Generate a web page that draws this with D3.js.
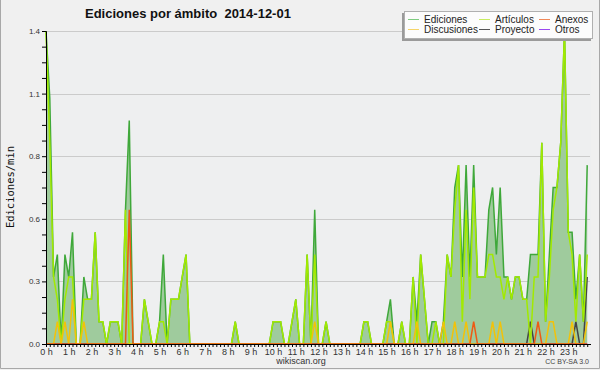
<!DOCTYPE html>
<html>
<head>
<meta charset="utf-8">
<script src="https://cdn.jsdelivr.net/npm/d3@7"></script>
<style>
body { margin:0; background:#f0f0f0; }
svg { display:block; }
</style>
</head>
<body>
<svg id="mainSVG" width="600" height="370"></svg>
<script>
var $svg = d3.select("#mainSVG");

// data: edits per minute, 10 minute bins, 2014-12-01 (12 values = 2 hours per row)
var stepMin = 10;
var ediciones = [
    1.4,1.1,0.3,0.4,0.0,0.4,0.3,0.5,0.0,0.0,0.3,0.2,
    0.2,0.5,0.1,0.1,0.0,0.1,0.1,0.1,0.0,0.6,1.0,0.0,
    0.0,0.0,0.2,0.1,0.0,0.0,0.1,0.4,0.0,0.2,0.2,0.2,
    0.3,0.4,0.0,0.0,0.0,0.0,0.0,0.0,0.0,0.0,0.0,0.0,
    0.0,0.0,0.1,0.0,0.0,0.0,0.0,0.0,0.0,0.0,0.0,0.0,
    0.1,0.1,0.1,0.0,0.0,0.1,0.2,0.0,0.0,0.4,0.0,0.6,
    0.0,0.0,0.1,0.0,0.0,0.0,0.0,0.0,0.0,0.0,0.0,0.0,
    0.1,0.1,0.0,0.0,0.0,0.0,0.1,0.2,0.0,0.0,0.1,0.0,
    0.0,0.3,0.1,0.4,0.2,0.0,0.1,0.1,0.0,0.1,0.4,0.3,
    0.7,0.8,0.3,0.8,0.3,0.8,0.3,0.3,0.3,0.6,0.7,0.4,
    0.7,0.3,0.3,0.2,0.3,0.3,0.2,0.2,0.4,0.4,0.4,0.9,
    0.1,0.4,0.7,0.7,0.9,1.4,0.5,0.5,0.2,0.4,0.1,0.8];
var articulos = [
    1.4,0.9,0.3,0.2,0.0,0.2,0.3,0.3,0.0,0.0,0.2,0.2,
    0.2,0.5,0.1,0.1,0.0,0.1,0.1,0.1,0.0,0.6,0.0,0.0,
    0.0,0.0,0.2,0.1,0.0,0.0,0.1,0.1,0.0,0.2,0.2,0.2,
    0.3,0.4,0.0,0.0,0.0,0.0,0.0,0.0,0.0,0.0,0.0,0.0,
    0.0,0.0,0.1,0.0,0.0,0.0,0.0,0.0,0.0,0.0,0.0,0.0,
    0.1,0.1,0.1,0.0,0.0,0.1,0.2,0.0,0.0,0.4,0.0,0.4,
    0.0,0.0,0.1,0.0,0.0,0.0,0.0,0.0,0.0,0.0,0.0,0.0,
    0.1,0.1,0.0,0.0,0.0,0.0,0.1,0.1,0.0,0.0,0.1,0.0,
    0.0,0.3,0.0,0.4,0.2,0.0,0.0,0.1,0.0,0.0,0.4,0.3,
    0.6,0.8,0.1,0.6,0.2,0.7,0.3,0.3,0.3,0.4,0.4,0.3,
    0.3,0.2,0.3,0.2,0.3,0.3,0.2,0.2,0.0,0.3,0.3,0.9,
    0.1,0.3,0.6,0.7,0.9,1.4,0.5,0.4,0.1,0.4,0.1,0.4];
var discusiones = [
    0,0,0,0.1,0,0.1,0,0.2,0,0,0.1,0,
    0,0,0,0,0,0,0,0,0,0,0,0,
    0,0,0,0,0,0,0,0,0,0,0,0,
    0,0,0,0,0,0,0,0,0,0,0,0,
    0,0,0,0,0,0,0,0,0,0,0,0,
    0,0,0,0,0,0,0,0,0,0,0,0.1,
    0,0,0,0,0,0,0,0,0,0,0,0,
    0,0,0,0,0,0,0,0.1,0,0,0,0,
    0,0,0.1,0,0,0,0,0,0,0.1,0,0,
    0.1,0,0,0.1,0,0,0,0,0,0,0.1,0,
    0.1,0,0,0,0,0,0,0,0,0,0,0,
    0,0.1,0.1,0,0,0,0,0.1,0,0,0,0.1];
var anexos = [
    0,0,0,0,0,0,0,0,0,0,0,0,
    0,0,0,0,0,0,0,0,0,0,0.6,0,
    0,0,0,0,0,0,0,0,0,0,0,0,
    0,0,0,0,0,0,0,0,0,0,0,0,
    0,0,0,0,0,0,0,0,0,0,0,0,
    0,0,0,0,0,0,0,0,0,0,0,0,
    0,0,0,0,0,0,0,0,0,0,0,0,
    0,0,0,0,0,0,0,0,0,0,0,0,
    0,0,0,0,0,0,0,0,0,0,0,0,
    0,0,0,0,0,0.1,0,0,0,0,0,0,
    0,0,0,0,0,0,0,0,0,0,0.1,0,
    0,0,0,0,0,0,0,0,0,0,0,0];
var proyecto = [
    0,0,0,0,0,0,0,0,0,0,0,0,
    0,0,0,0,0,0,0,0,0,0,0,0,
    0,0,0,0,0,0,0,0,0,0,0,0,
    0,0,0,0,0,0,0,0,0,0,0,0,
    0,0,0,0,0,0,0,0,0,0,0,0,
    0,0,0,0,0,0,0,0,0,0,0,0,
    0,0,0,0,0,0,0,0,0,0,0,0,
    0,0,0,0,0,0,0,0,0,0,0,0,
    0,0,0,0,0,0,0,0,0,0,0,0,
    0,0,0,0,0,0,0,0,0,0,0,0,
    0,0,0,0,0,0,0,0,0.1,0,0,0,
    0,0,0,0,0,0,0,0,0.1,0,0,0.3];
var otros = ediciones.map(()=>0);

var seriesNames = ['Ediciones','Artículos','Anexos','Discusiones','Proyecto','Otros'];
var seriesData = [ediciones, articulos, anexos, discusiones, proyecto, otros];
var lineColors = ['#3fa83a','#a2ea00','#ee5a14','#f2c20a','#444444','#9a3cf0'];
var legendColors = ['#7fcc80','#c8ec60','#f08858','#f5d468','#555555','#9a48f0'];
// legend order: column by column
var legendOrder = [0,3,1,4,2,5];

var yMax = 1.4, yMajor = 5, yMinorPer = 4;

// layout
var plotL = 46, plotR = 591, plotT = 31, plotB = 344;

var x = d3.scaleLinear().domain([0, 24*60]).range([plotL, plotR]);
var y = d3.scaleLinear().domain([0, yMax]).range([plotB, plotT]);
var tMin = i => i*stepMin;

// frame
$svg.append('rect').attr('x',0).attr('y',0).attr('width',600).attr('height',370).attr('fill','#f0f0f0');
$svg.append('path').attr('d','M0.5 0 V368.5 H599.5 V0').attr('fill','none').attr('stroke','#a8a8a8');
$svg.append('rect').attr('x',plotL).attr('y',plotT).attr('width',plotR-plotL).attr('height',plotB-plotT).attr('fill','#eeeff0');

// gridlines
var majorVals = d3.range(1, yMajor+1).map(i => i*yMax/yMajor);
$svg.append('g').selectAll('line').data(majorVals).enter().append('line')
    .attr('x1',plotL).attr('x2',plotR-1)
    .attr('y1',d=>Math.round(y(d))+0.5).attr('y2',d=>Math.round(y(d))+0.5)
    .attr('stroke','#cbcbcb').attr('stroke-width',1.2);

// area + lines
var area = d3.area().x((d,i)=>x(tMin(i))).y0(y(0)).y1(d=>y(d));
$svg.append('path').attr('d',area(ediciones)).attr('fill','#9fcb9d');

var line = d3.line().x((d,i)=>x(tMin(i))).y(d=>y(d));
var drawOrder = [5,4,0,1,3,2];
$svg.append('g').selectAll('path').data(drawOrder).enter().append('path')
    .attr('d',s=>line(seriesData[s]))
    .attr('fill','none')
    .attr('stroke',s=>lineColors[s])
    .attr('stroke-width',1.5)
    .attr('stroke-linejoin','miter');

// y axis
var yTicks = d3.range(0, yMajor*yMinorPer+1).map(i => i*yMax/(yMajor*yMinorPer));
var yAxis = d3.axisLeft(y).tickValues(yTicks).tickSize(4).tickPadding(2)
    .tickFormat((d,i)=> i%yMinorPer==0 ? d3.format('.1f')(d) : '');
var $ya = $svg.append('g').attr('transform','translate(' + plotL + ',0)').call(yAxis);
$ya.select('.domain').attr('stroke','#000');
$ya.selectAll('.tick line').attr('stroke','#000');
$ya.selectAll('text').attr('font-family','Liberation Sans, Arial, sans-serif').attr('font-size',8).attr('fill','#333');

// x axis
var xTicks = d3.range(0, 24*60, stepMin);
var xAxis = d3.axisBottom(x).tickValues(xTicks).tickSize(3).tickPadding(2)
    .tickFormat(d => d%60==0 ? (d/60) + ' h' : '');
var $xa = $svg.append('g').attr('transform','translate(0,' + plotB + ')').call(xAxis);
$xa.select('.domain').attr('stroke','#000').attr('d','M' + plotL + ',0.5H' + plotR);
$xa.selectAll('.tick line').attr('stroke','#000');
$xa.selectAll('text').attr('font-family','Liberation Sans, Arial, sans-serif').attr('font-size',9).attr('fill','#333');

// y label
$svg.append('text').attr('transform','translate(14,187) rotate(-90)')
    .attr('text-anchor','middle')
    .attr('font-family','DejaVu Sans Mono, monospace').attr('font-size',10.5).attr('fill','#111')
    .text('Ediciones/min');

// title
$svg.append('text').attr('x',85).attr('y',18)
    .attr('font-family','Liberation Sans, Arial, sans-serif').attr('font-weight','bold').attr('font-size',13)
    .attr('fill','#111').attr('xml:space','preserve')
    .text('Ediciones por ámbito  2014-12-01');

// footer
$svg.append('text').attr('x',301).attr('y',364).attr('text-anchor','middle')
    .attr('font-family','Liberation Sans, Arial, sans-serif').attr('font-size',9).attr('fill','#333')
    .text('wikiscan.org');
$svg.append('text').attr('x',589).attr('y',364).attr('text-anchor','end')
    .attr('font-family','Liberation Sans, Arial, sans-serif').attr('font-size',7).attr('fill','#444')
    .text('CC BY-SA 3.0');

// legend
var lgX = 404, lgY = 11, lgW = 189, lgH = 28;
$svg.append('rect').attr('x',lgX-2).attr('y',lgY+2).attr('width',lgW).attr('height',lgH).attr('fill','#9a9a9a');
$svg.append('rect').attr('x',lgX+0.5).attr('y',lgY+0.5).attr('width',lgW-1).attr('height',lgH-1)
    .attr('fill','#fcfcfc').attr('stroke','#b0b0b0');
var colX = [408, 479, 539];
var $lg = $svg.append('g').selectAll('g').data(legendOrder).enter().append('g')
    .attr('transform',(s,i)=>'translate(' + colX[Math.floor(i/2)] + ',' + (lgY + 8 + (i%2)*10) + ')');
$lg.append('line').attr('x1',0).attr('x2',11).attr('y1',0.5).attr('y2',0.5)
    .attr('stroke',s=>legendColors[s]).attr('stroke-width',1);
$lg.append('text').attr('x',16).attr('y',4)
    .attr('font-family','Liberation Sans, Arial, sans-serif').attr('font-size',10).attr('fill','#222')
    .text(s=>seriesNames[s]);
</script>
</body>
</html>
